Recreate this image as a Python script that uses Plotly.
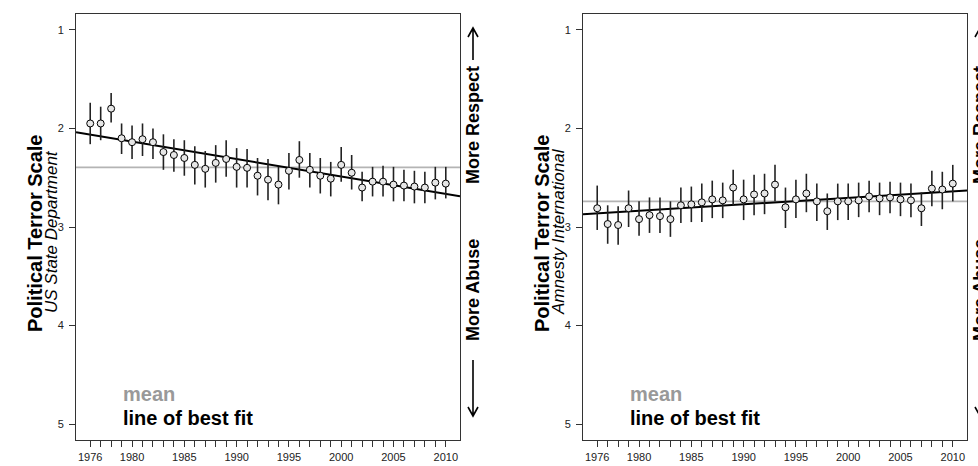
import plotly.graph_objects as go

W, H = 978, 466

years = list(range(1976, 2011))
x_label_years = [1976, 1980, 1985, 1990, 1995, 2000, 2005, 2010]
y_ticks = [1, 2, 3, 4, 5]

# US State Department: yearly mean score and interval bounds
us_mean = [1.95, 1.95, 1.80, 2.10, 2.14, 2.11, 2.14, 2.24, 2.27, 2.30,
           2.37, 2.41, 2.35, 2.31, 2.39, 2.40, 2.48, 2.52, 2.57, 2.43,
           2.32, 2.42, 2.48, 2.51, 2.37, 2.45, 2.60, 2.54, 2.54, 2.57,
           2.58, 2.59, 2.60, 2.55, 2.56]
us_low = [1.74, 1.78, 1.64, 1.95, 1.97, 1.95, 2.00, 2.06, 2.11, 2.12,
          2.18, 2.23, 2.17, 2.12, 2.20, 2.21, 2.30, 2.31, 2.39, 2.25,
          2.13, 2.25, 2.30, 2.34, 2.19, 2.27, 2.44, 2.39, 2.38, 2.39,
          2.42, 2.43, 2.44, 2.39, 2.39]
us_high = [2.16, 2.12, 1.94, 2.26, 2.31, 2.28, 2.31, 2.42, 2.44, 2.48,
           2.57, 2.60, 2.55, 2.49, 2.60, 2.60, 2.68, 2.73, 2.77, 2.62,
           2.50, 2.60, 2.66, 2.69, 2.54, 2.62, 2.74, 2.69, 2.69, 2.74,
           2.74, 2.76, 2.76, 2.72, 2.71]
us_overall_mean = 2.395
us_fit_1976 = 2.064
us_fit_slope = 0.01765

# Amnesty International: yearly mean score and interval bounds
ai_mean = [2.81, 2.97, 2.98, 2.81, 2.92, 2.88, 2.89, 2.92, 2.78, 2.77,
           2.75, 2.72, 2.73, 2.60, 2.72, 2.67, 2.66, 2.57, 2.80, 2.72,
           2.66, 2.74, 2.84, 2.74, 2.74, 2.73, 2.69, 2.71, 2.70, 2.72,
           2.73, 2.81, 2.61, 2.62, 2.56]
ai_low = [2.58, 2.78, 2.79, 2.63, 2.74, 2.70, 2.70, 2.74, 2.60, 2.59,
          2.56, 2.53, 2.55, 2.42, 2.52, 2.47, 2.46, 2.37, 2.60, 2.52,
          2.46, 2.56, 2.66, 2.56, 2.56, 2.55, 2.53, 2.55, 2.54, 2.55,
          2.56, 2.65, 2.43, 2.44, 2.37]
ai_high = [3.03, 3.17, 3.18, 3.00, 3.09, 3.06, 3.06, 3.10, 2.96, 2.95,
           2.95, 2.91, 2.91, 2.78, 2.93, 2.88, 2.87, 2.74, 3.01, 2.91,
           2.85, 2.94, 3.03, 2.93, 2.93, 2.90, 2.85, 2.88, 2.86, 2.89,
           2.90, 2.99, 2.79, 2.82, 2.74]
ai_overall_mean = 2.74
ai_fit_1976 = 2.861
ai_fit_slope = -0.00654

FONT = "Liberation Sans, Arial, sans-serif"


def pad_range(lo, hi, frac=0.04):
    d = (hi - lo) * frac
    return [lo - d, hi + d]


x_range = pad_range(min(years), max(years))
y_range = pad_range(min(y_ticks), max(y_ticks))


def px(x):
    return x / W


def py(y):
    return 1 - y / H


def label(text, x, y, size, color="black", angle=0, xanchor="center"):
    return dict(text=text, textangle=angle, x=px(x), y=py(y),
                xref="paper", yref="paper", xanchor=xanchor, yanchor="middle",
                showarrow=False, font=dict(family=FONT, size=size, color=color))


fig = go.Figure()

panels = [
    dict(xa="x", ya="y", mean=us_mean, low=us_low, high=us_high,
         overall=us_overall_mean, f0=us_fit_1976, slope=us_fit_slope,
         left=76, right=460, sub="US State Department"),
    dict(xa="x2", ya="y2", mean=ai_mean, low=ai_low, high=ai_high,
         overall=ai_overall_mean, f0=ai_fit_1976, slope=ai_fit_slope,
         left=583, right=967, sub="Amnesty International"),
]

annotations = []
shapes = []

for p in panels:
    # overall mean
    fig.add_trace(go.Scatter(
        x=x_range, y=[p["overall"], p["overall"]], mode="lines",
        line=dict(color="#b4b4b4", width=1.6),
        xaxis=p["xa"], yaxis=p["ya"], showlegend=False, hoverinfo="skip"))
    # linear trend
    fit_y = [p["f0"] + p["slope"] * (xx - 1976) for xx in x_range]
    fig.add_trace(go.Scatter(
        x=x_range, y=fit_y, mode="lines",
        line=dict(color="black", width=2),
        xaxis=p["xa"], yaxis=p["ya"], showlegend=False, hoverinfo="skip"))
    # yearly means with intervals
    fig.add_trace(go.Scatter(
        x=years, y=p["mean"], mode="markers",
        marker=dict(symbol="circle", size=7, color="#e6e6e6",
                    line=dict(color="black", width=1)),
        error_y=dict(type="data", symmetric=False,
                     array=[h - m for h, m in zip(p["high"], p["mean"])],
                     arrayminus=[m - l for m, l in zip(p["mean"], p["low"])],
                     width=0, thickness=1.6, color="#222222"),
        xaxis=p["xa"], yaxis=p["ya"], showlegend=False))

    L, R = p["left"], p["right"]
    # axis title
    annotations.append(label("<b>Political Terror Scale</b>", L - 41, 233, 20, angle=-90))
    annotations.append(label("<i>" + p["sub"] + "</i>", L - 25, 232, 17, angle=-90))
    # in-plot key
    annotations.append(label("<b>mean</b>", L + 45, 394, 20, "#999999", xanchor="left"))
    annotations.append(label("<b>line of best fit</b>", L + 45, 418, 20, xanchor="left"))
    # direction labels
    annotations.append(label("<b>More Respect</b>", R + 13, 125, 18, angle=-90))
    annotations.append(label("<b>More Abuse</b>", R + 13, 290, 18, angle=-90))
    ax = R + 13
    up = (f"M{px(ax)},{py(60)} L{px(ax)},{py(28)} "
          f"M{px(ax - 5)},{py(37)} L{px(ax)},{py(28)} L{px(ax + 5)},{py(37)}")
    down = (f"M{px(ax)},{py(360)} L{px(ax)},{py(416)} "
            f"M{px(ax - 5)},{py(407)} L{px(ax)},{py(416)} L{px(ax + 5)},{py(407)}")
    for path in (up, down):
        shapes.append(dict(type="path", path=path, xref="paper", yref="paper",
                           line=dict(color="black", width=1.6)))

tickvals = years
ticktext = [str(y) if y in x_label_years else "" for y in years]

xaxis_common = dict(
    range=x_range, tickmode="array", tickvals=tickvals, ticktext=ticktext,
    ticks="outside", ticklen=6, tickwidth=1, tickcolor="#333333",
    showline=True, linecolor="#333333", linewidth=1, mirror=True,
    showgrid=False, zeroline=False, ticklabelstandoff=1,
    tickfont=dict(family=FONT, size=11, color="#222222"))
yaxis_common = dict(
    range=[y_range[1], y_range[0]], tickmode="array", tickvals=y_ticks,
    ticks="outside", ticklen=6, tickwidth=1, tickcolor="#333333",
    showline=True, linecolor="#333333", linewidth=1, mirror=True,
    showgrid=False, zeroline=False, ticklabelstandoff=3,
    tickfont=dict(family=FONT, size=11, color="#222222"))

fig.update_layout(
    width=W, height=H, margin=dict(l=0, r=0, t=0, b=0),
    paper_bgcolor="white", plot_bgcolor="white",
    xaxis=dict(domain=[px(76), px(460)], anchor="y", **xaxis_common),
    yaxis=dict(domain=[py(440), py(14)], anchor="x", **yaxis_common),
    xaxis2=dict(domain=[px(583), px(967)], anchor="y2", **xaxis_common),
    yaxis2=dict(domain=[py(440), py(14)], anchor="x2", **yaxis_common),
    annotations=annotations, shapes=shapes, showlegend=False)

fig.write_html("out.html")
